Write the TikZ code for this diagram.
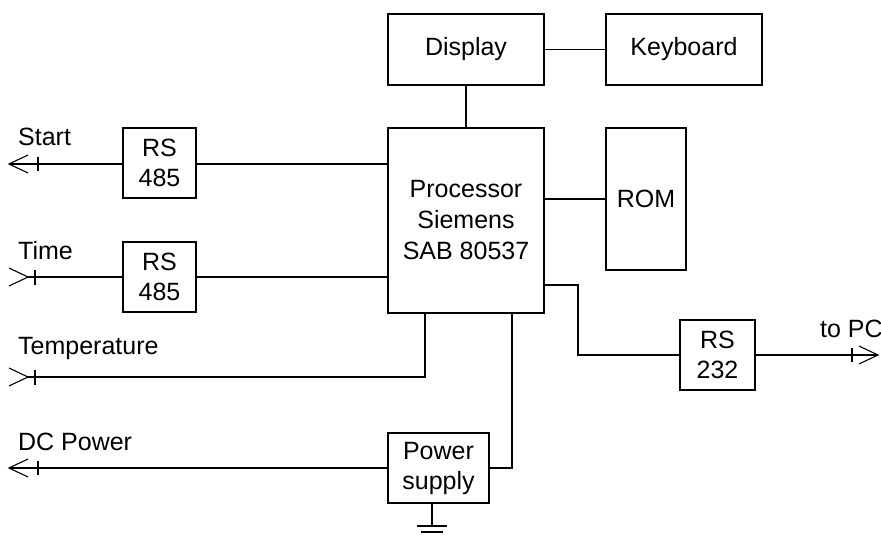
\documentclass[tikz,border=0pt]{standalone}
\usepackage{fontspec}
\setmainfont{Liberation Sans}
\begin{document}
\begin{tikzpicture}[x=1pt,y=-1pt,
  blk/.style={draw, line width=1.2pt, inner sep=0pt, font=\fontsize{25}{30}\selectfont, align=center},
  wire/.style={line width=1.1pt},
  lbl/.style={font=\fontsize{25}{30}\selectfont, anchor=south west, inner sep=0pt}]
\useasboundingbox (0,0) rectangle (881,537);
% blocks
\node[blk, minimum width=156, minimum height=71] (disp) at (466,49.5) {Display};
\node[blk, minimum width=156, minimum height=71] (kbd) at (684,49.5) {Keyboard};
\node[blk, minimum width=156, minimum height=185, font=\fontsize{25}{31}\selectfont] (proc) at (466,220.5) {Processor\\Siemens\\SAB 80537};
\node[blk, minimum width=80, minimum height=142] (rom) at (646,199) {ROM};
\node[blk, minimum width=73, minimum height=70] (rsa) at (159.5,163) {RS\\485};
\node[blk, minimum width=73, minimum height=70] (rsb) at (159.5,277) {RS\\485};
\node[blk, minimum width=75, minimum height=70] (rsc) at (717.5,355) {RS\\232};
\node[blk, minimum width=101, minimum height=70] (psu) at (438.5,468) {Power\\supply};
% coordinates of free ends
\coordinate (startE) at (9,164);
\coordinate (timeE) at (28,277);
\coordinate (tempE) at (28,377);
\coordinate (dcE) at (9,468);
\coordinate (pcE) at (878,355);
\coordinate (tempC) at (425,377);
\coordinate (psC) at (512,468);
\coordinate (pcA) at (578,285);
\coordinate (pcB) at (578,355);
% connectors
\draw[wire] (disp) -- (kbd);
\draw[wire] (disp) -- (proc);
\draw[wire] (proc.east |- rom) -- (rom);
\draw[wire] (startE) -- (rsa.west |- startE);
\draw[wire] (rsa.east |- startE) -- (proc.west |- startE);
\draw[wire] (timeE) -- (rsb.west |- timeE);
\draw[wire] (rsb.east |- timeE) -- (proc.west |- timeE);
\draw[wire] (tempE) -- (tempC) -- (proc.south -| tempC);
\draw[wire] (dcE) -- (psu.west);
\draw[wire] (psu.east) -- (psC) -- (proc.south -| psC);
\draw[wire] (proc.east |- pcA) -- (pcA) -- (pcB) -- (rsc.west);
\draw[wire] (rsc.east) -- (pcE);
% arrow symbols
\draw[wire] (28,155) -- (startE) -- (28,173);
\draw[wire] (38,157) -- (38,171);
\draw[wire] (9,268) -- (timeE) -- (9,286);
\draw[wire] (35,270) -- (35,285);
\draw[wire] (9,368) -- (tempE) -- (9,386);
\draw[wire] (35,370) -- (35,385);
\draw[wire] (28,459) -- (dcE) -- (28,477);
\draw[wire] (38,461) -- (38,475);
\draw[wire] (859,346) -- (pcE) -- (859,364);
\draw[wire] (852,348) -- (852,362);
% ground
\coordinate (gnd) at (432,526);
\draw[line width=1.8pt] (psu.south -| gnd) -- (gnd);
\draw[wire] (417,526) -- (447,526);
\draw[wire] (421,532) -- (443,532);
% labels
\node[lbl] (tStart) at (18,146) {Start};
\node[lbl] (tTime) at (18,260) {Time};
\node[lbl] (tTemp) at (18,360) {Temperature};
\node[lbl] (tDC) at (18,451) {DC Power};
\node[lbl] (tPC) at (820,338) {to PC};
\end{tikzpicture}
\end{document}
